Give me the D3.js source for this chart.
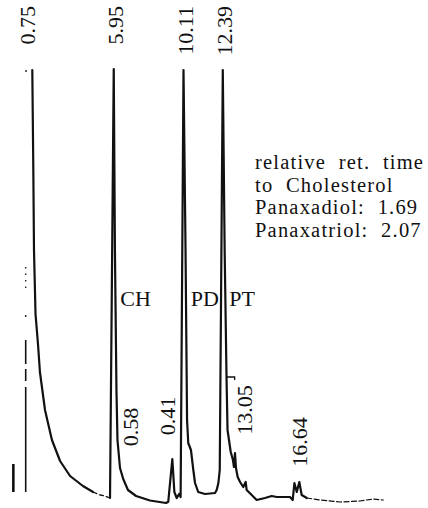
<!DOCTYPE html>
<html>
<head>
<meta charset="utf-8">
<script src="https://cdn.jsdelivr.net/npm/d3@7/dist/d3.min.js"></script>
<style>
  html, body { margin: 0; padding: 0; background: #fff; }
  svg { display: block; }
</style>
</head>
<body>
<svg id="chart" width="428" height="508"></svg>
<script>
// ---------------- DATA ----------------
// retention times (min) printed above the main peaks
const peakTimes = [0.75, 5.95, 10.11, 12.39];
const peakLabels = ["0.75", "5.95", "10.11", "12.39"];
// minor peaks (retention times)
const minorTimes = [13.05, 16.64];
const minorLabels = ["13.05", "16.64"];
// area-ratio labels
const ratioLabels = ["0.58", "0.41"];
// compound abbreviations
const compoundNames = ["CH", "PD", "PT"];
const compoundTimes = [5.95, 10.11, 12.39];
// note text
const noteLines = ["relative  ret.  time", "to  Cholesterol", "Panaxadiol:  1.69", "Panaxatriol:  2.07"];

// detector trace, [time (min), signal (a.u.)]
const solventTail = [[1.14,430],[1.20,330],[1.24,250],[1.33,186],[1.48,155],[1.59,128],[1.89,90],
  [2.30,60],[2.78,39],[3.37,24],[4.13,14],[4.73,8]];
const solventFade = [[4.73,8],[5.14,5],[5.43,4],[5.73,2]];
const mainTrace = [[5.73,2],[5.95,431],[6.02,250],[6.11,110],[6.17,60],[6.32,32],[6.51,21],[6.79,10],
  [7.27,4],[8.09,-0.5],[9.04,-3],[9.17,-1.7],[9.41,41],[9.53,8],[9.67,2],[9.81,6],[9.90,3],
  [10.07,430],[10.19,250],[10.28,80],[10.35,57],[10.51,50],[10.65,30],[10.75,17],[10.94,8],
  [11.34,6],[11.93,7],[12.03,10],[12.13,17],[12.21,30],[12.39,430],[12.50,250],[12.61,123],
  [12.67,70],[12.86,48],[12.99,40],[13.05,33],[13.11,47],[13.17,32],[13.27,23],[13.41,18],
  [13.60,13],[13.74,18],[13.80,10],[14.10,5],[14.39,0],[14.88,2],[15.28,4],[15.58,3],[15.97,3],
  [16.36,3],[16.52,0],[16.62,17],[16.76,8],[16.91,18],[17.05,5],[17.35,2]];
const baselineFade = [[17.35,2],[18.13,0],[19.31,-2],[20.49,-1],[21.28,1],[21.87,0]];

// recorder marks: [time, signal from, signal to]
const markerSolid = [[0.75,160,136],[0.75,131,119],[0.75,113,8],[0.02,36,8]];
const markerDotted = [[0.75,233,208]];
const markerDots = [[0.75,184],[0.77,429]];
const tickMark = [[12.61,123],[13.09,123],[13.09,120]];

// ---------------- CHART ----------------
const FONT = '"Liberation Serif", "Times New Roman", serif';
const svg = d3.select("#chart");
const x = d3.scaleLinear().domain([0, 22]).range([13, 385.5]);
const y = d3.scaleLinear().domain([0, 430]).range([500, 70]);

const line = d3.line().x(d => x(d[0])).y(d => y(d[1]));

function trace(data, dash, w) {
  svg.append("path").datum(data)
    .attr("d", line)
    .attr("fill", "none")
    .attr("stroke", "#111")
    .attr("stroke-width", w || 1.6)
    .attr("stroke-linejoin", "round")
    .attr("stroke-linecap", "round")
    .attr("stroke-dasharray", dash || null);
}
trace(solventTail, null, 2.2);
trace(solventFade, "4,3", 1.3);
trace(mainTrace, null, 2.2);
trace(baselineFade, "5,2.5", 1.2);

// recorder marks
svg.selectAll(".msolid").data(markerSolid).enter().append("line")
  .attr("x1", d => x(d[0])).attr("x2", d => x(d[0]))
  .attr("y1", d => y(d[1])).attr("y2", d => y(d[2]))
  .attr("stroke", "#111").attr("stroke-width", (d, i) => i === 3 ? 2.6 : 1.6);
svg.selectAll(".mdot").data(markerDotted).enter().append("line")
  .attr("x1", d => x(d[0])).attr("x2", d => x(d[0]))
  .attr("y1", d => y(d[1])).attr("y2", d => y(d[2]))
  .attr("stroke", "#111").attr("stroke-width", 1.3).attr("stroke-dasharray", "1.5,5");
svg.selectAll(".mdots").data(markerDots).enter().append("circle")
  .attr("cx", d => x(d[0])).attr("cy", d => y(d[1])).attr("r", 0.9).attr("fill", "#111");
svg.append("path").datum(tickMark).attr("d", line)
  .attr("fill", "none").attr("stroke", "#111").attr("stroke-width", 1.3);

function label(sel) {
  return sel.style("font-family", FONT).attr("fill", "#111");
}

// rotated retention-time labels above peaks
label(svg.selectAll(".plabel").data(peakLabels).enter().append("text"))
  .attr("transform", (d, i) => `translate(${x(peakTimes[i]) + 9},6) rotate(-90)`)
  .attr("text-anchor", "end")
  .attr("font-size", 22)
  .text(d => d);

// minor peak labels
const minorOffset = [18, 12];
const minorCenter = [410, 442];
label(svg.selectAll(".mlabel").data(minorLabels).enter().append("text"))
  .attr("transform", (d, i) => `translate(${x(minorTimes[i]) + minorOffset[i]},${minorCenter[i]}) rotate(-90)`)
  .attr("text-anchor", "middle")
  .attr("font-size", 22)
  .text(d => d);

// ratio labels
const ratioPos = [[138, 427], [175, 416]];
label(svg.selectAll(".rlabel").data(ratioLabels).enter().append("text"))
  .attr("transform", (d, i) => `translate(${ratioPos[i][0]},${ratioPos[i][1]}) rotate(-90)`)
  .attr("text-anchor", "middle")
  .attr("font-size", 22)
  .text(d => d);

// compound names
label(svg.selectAll(".cname").data(compoundNames).enter().append("text"))
  .attr("x", (d, i) => x(compoundTimes[i]) + 6.5)
  .attr("y", 306)
  .attr("font-size", 22)
  .text(d => d);

// note
label(svg.selectAll(".note").data(noteLines).enter().append("text"))
  .attr("x", 255)
  .attr("y", (d, i) => 169 + i * 22.6)
  .attr("font-size", 20.5)
  .attr("letter-spacing", 1.2)
  .attr("xml:space", "preserve")
  .style("white-space", "pre")
  .text(d => d);
</script>
</body>
</html>
